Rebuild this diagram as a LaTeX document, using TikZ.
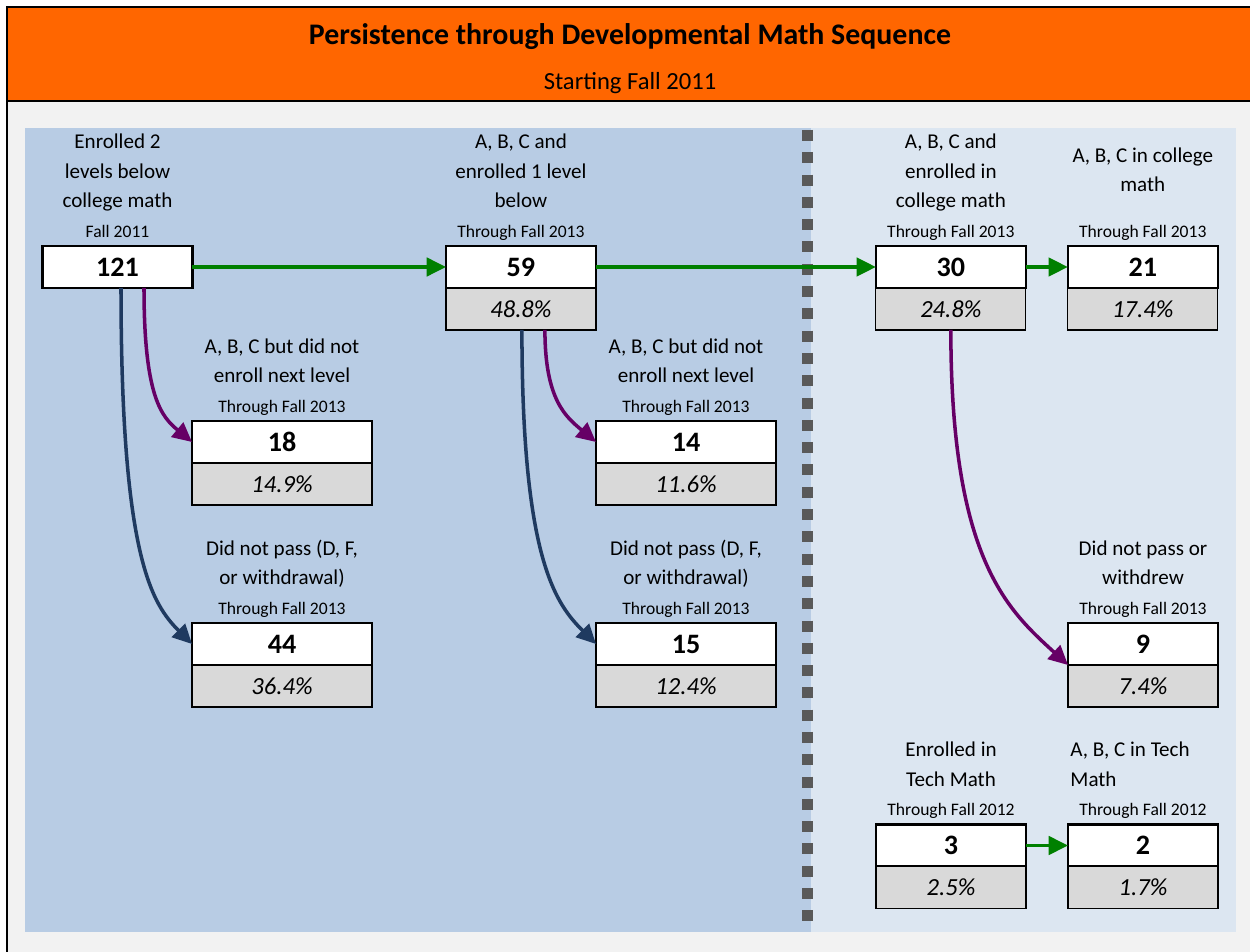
\documentclass[tikz,border=0pt]{standalone}
\usepackage{fontspec}
\setmainfont{Carlito}
\usetikzlibrary{positioning,arrows.meta}

\definecolor{hdrorange}{HTML}{FF6600}
\definecolor{bggray}{HTML}{F2F2F2}
\definecolor{paneldark}{HTML}{B8CCE4}
\definecolor{panellight}{HTML}{DCE6F1}
\definecolor{sepgray}{HTML}{595959}
\definecolor{pctgray}{HTML}{D9D9D9}
\definecolor{passgreen}{HTML}{008000}
\definecolor{stopplum}{HTML}{660066}
\definecolor{failnavy}{HTML}{1F3A60}

\tikzset{
  num/.style={draw, line width=1.3pt, fill=white, minimum width=3cm, minimum height=0.84cm,
    inner sep=0pt, outer sep=0pt, font=\bfseries\fontsize{16}{19}\selectfont},
  pct/.style={draw, line width=0.7pt, fill=pctgray, minimum width=3cm, minimum height=0.84cm,
    inner sep=0pt, outer sep=0pt, font=\itshape\fontsize{14}{17}\selectfont},
  wide/.style={minimum width=3.6cm},
  thru/.style={inner sep=0pt, text height=7pt, text depth=0pt, font=\fontsize{10}{12}\selectfont},
  lbl/.style={inner sep=0pt, text width=4cm, align=flush center, font=\fontsize{12}{16.8}\selectfont,
    execute at end node=\strut},
  flow/.style={line width=2pt, -{Triangle[length=11pt,width=10.5pt]}},
}

\begin{document}
\begin{tikzpicture}[x=0.02cm, y=-0.02cm]
\useasboundingbox (0,0) rectangle (1250,952);

  % page
  \fill[white] (0,0) rectangle (1250,952);
  \fill[bggray] (7,101) rectangle (1250,952);
  \fill[hdrorange] (7,7) rectangle (1250,101);
  \draw[line width=1pt] (1250,7) -- (7,7) -- (7,952);
  \draw[line width=1pt] (7,101) -- (1250,101);
  \node[font=\bfseries\fontsize{17}{20}\selectfont] (title) at (630,37) {Persistence through Developmental Math Sequence}; %
  \node[font=\fontsize{14}{17}\selectfont] (subtitle) at (630,83) {Starting Fall 2011}; %

  % panels
  \fill[paneldark] (25,128) rectangle (811,932);
  \fill[panellight] (811,128) rectangle (1236,932);
  \draw[sepgray, line width=0.22cm, dash pattern=on 0.22cm off 0.226cm] (807,130) -- (807,932);

  % top row
  \node[num] (enr2) at (117.5,267) {121}; %
  \node[num, right=5.07cm of enr2] (enr1)  {59}; %
  \node[pct, below=0pt of enr1]  (enr1-p) {48.8\%}; %
  \node[num, right=5.6cm of enr1]  (col)   {30}; %
  \node[pct, below=0pt of col]   (col-p)  {24.8\%}; %
  \node[num, right=0.84cm of col]  (colp)  {21}; %
  \node[pct, below=0pt of colp]  (colp-p) {17.4\%}; %

  % dropped out
  \node[num, wide] (stop2) at (282,442) {18}; %
  \node[pct, wide, below=0pt of stop2] (stop2-p) {14.9\%}; %
  \node[num, wide] (fail2) at (282,644) {44}; %
  \node[pct, wide, below=0pt of fail2] (fail2-p) {36.4\%}; %
  \node[num, wide] (stop1) at (686,442) {14}; %
  \node[pct, wide, below=0pt of stop1] (stop1-p) {11.6\%}; %
  \node[num, wide] (fail1) at (686,644) {15}; %
  \node[pct, wide, below=0pt of fail1] (fail1-p) {12.4\%}; %
  \node[num] (colf) at (1143,644) {9}; %
  \node[pct, below=0pt of colf] (colf-p) {7.4\%}; %

  % tech math
  \node[num] (tech) at (951,845.5) {3}; %
  \node[pct, below=0pt of tech] (tech-p) {2.5\%}; %
  \node[num, right=0.84cm of tech] (techp) {2}; %
  \node[pct, below=0pt of techp] (techp-p) {1.7\%}; %

  % captions
  \node[thru, above=0.17cm of enr2]  (enr2-t)  {Fall 2011}; %
  \node[lbl, above=4.4pt of enr2-t]  (enr2-l)  {Enrolled 2\\levels below\\college math}; %
  \node[thru, above=0.17cm of enr1]  (enr1-t)  {Through Fall 2013}; %
  \node[lbl, above=4.4pt of enr1-t]  (enr1-l)  {A, B, C and\\enrolled 1 level\\below}; %
  \node[thru, above=0.17cm of col]   (col-t)   {Through Fall 2013}; %
  \node[lbl, above=4.4pt of col-t]   (col-l)   {A, B, C and\\enrolled in\\college math}; %
  \node[thru, above=0.17cm of colp]  (colp-t)  {Through Fall 2013}; %
  \node[lbl, above=13.4pt of colp-t] (colp-l)  {A, B, C in college\\math}; %
  \node[thru, above=0.17cm of stop2] (stop2-t) {Through Fall 2013}; %
  \node[lbl, above=4.4pt of stop2-t] (stop2-l) {A, B, C but did not\\enroll next level}; %
  \node[thru, above=0.17cm of fail2] (fail2-t) {Through Fall 2013}; %
  \node[lbl, above=4.4pt of fail2-t] (fail2-l) {Did not pass (D, F,\\or withdrawal)}; %
  \node[thru, above=0.17cm of stop1] (stop1-t) {Through Fall 2013}; %
  \node[lbl, above=4.4pt of stop1-t] (stop1-l) {A, B, C but did not\\enroll next level}; %
  \node[thru, above=0.17cm of fail1] (fail1-t) {Through Fall 2013}; %
  \node[lbl, above=4.4pt of fail1-t] (fail1-l) {Did not pass (D, F,\\or withdrawal)}; %
  \node[thru, above=0.17cm of colf]  (colf-t)  {Through Fall 2013}; %
  \node[lbl, above=4.4pt of colf-t]  (colf-l)  {Did not pass or\\withdrew}; %
  \node[thru, above=0.17cm of tech]  (tech-t)  {Through Fall 2012}; %
  \node[lbl, above=4.4pt of tech-t]  (tech-l)  {Enrolled in\\Tech Math}; %
  \node[thru, above=0.17cm of techp] (techp-t) {Through Fall 2012}; %
  \node[lbl, text width=2.9cm, align=flush left, above=4.4pt of techp-t] (techp-l) {A, B, C in Tech\\Math}; %

  % passed on
  \draw[flow, passgreen] (enr2) -- (enr1);
  \draw[flow, passgreen] (enr1) -- (col);
  \draw[flow, passgreen] (col) -- (colp);
  \draw[flow, passgreen] (tech) -- (techp);

  % stopped / failed
  \draw[flow, stopplum] ([xshift=0.53cm]enr2.south) .. controls +(0,110) and +(-30,-25) .. (stop2.west);
  \draw[flow, failnavy] ([xshift=0.07cm]enr2.south) .. controls +(0,270) and +(-40,-40) .. (fail2.west);
  \draw[flow, stopplum] ([xshift=0.48cm]enr1-p.south) .. controls +(0,70) and +(-30,-25) .. (stop1.west);
  \draw[flow, failnavy] ([xshift=0.02cm]enr1-p.south) .. controls +(0,230) and +(-40,-40) .. (fail1.west);
  \draw[flow, stopplum] (col-p.south) .. controls +(0,230) and +(-60,-55) .. (colf.south west);

\end{tikzpicture}
\end{document}
